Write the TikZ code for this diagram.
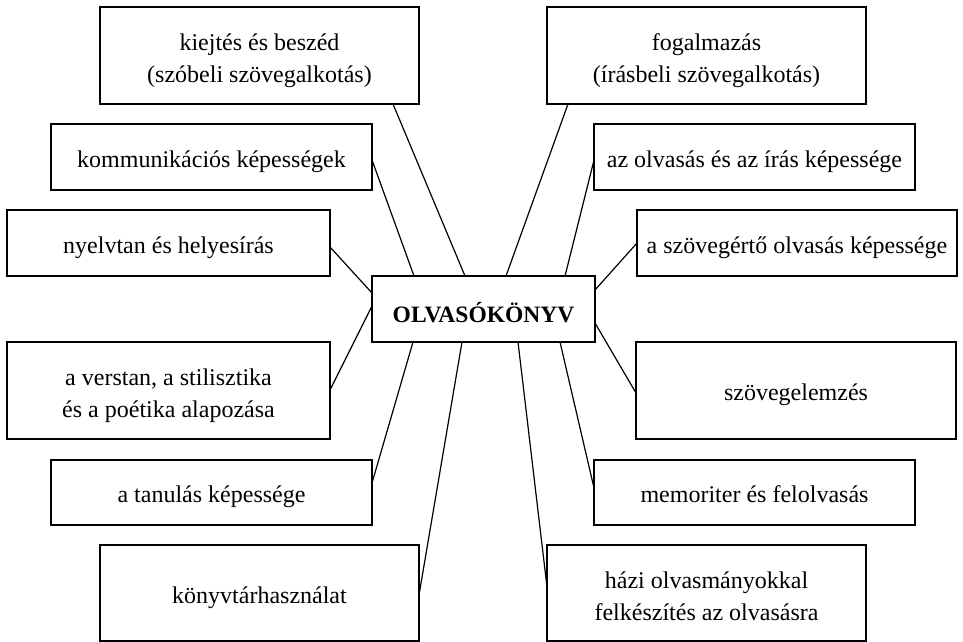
\documentclass[tikz,border=0pt]{standalone}
\usepackage{fontspec}
\setmainfont{Liberation Serif}
\usetikzlibrary{calc}
\tikzset{
  box/.style={draw, line width=1.4pt, inner sep=0pt, outer sep=0pt, align=center,
    font=\fontsize{24}{32}\selectfont, text height=20pt, text depth=0pt},
  twoline/.style={text height=54pt},
  hub/.style={box, font=\fontsize{23.5}{28}\selectfont\bfseries, text height=26pt},
  link/.style={line width=1.2pt}
}
% place a box by its corner coordinates (x1,y1) (x2,y2)
\newcommand\boxat[6][box]{%
  \node[box, #1, minimum width={#5-#3}, minimum height={#6-#4}] (#2) at ({(#3+#5)/2},{(#4+#6)/2})}
\begin{document}
\begin{tikzpicture}[x=1pt,y=-1pt]
\useasboundingbox (0,0) rectangle (963,642);
\fill[white] (0,0) rectangle (963,642);

% centre
\boxat[hub]{C}{372}{276}{595}{342} {OLVASÓKÖNYV};

% left column
\boxat[twoline]{k1}{100}{7}{419}{104} {kiejtés és beszéd\\(szóbeli szövegalkotás)};
\boxat{k2}{51}{124}{372}{190} {kommunikációs képességek};
\boxat{k3}{7}{210}{330}{276} {nyelvtan és helyesírás};
\boxat[twoline]{k4}{7}{342}{330}{439} {a verstan, a stilisztika\\és a poétika alapozása};
\boxat{k5}{51}{460}{372}{525} {a tanulás képessége};
\boxat{k6}{100}{545}{419}{641} {könyvtárhasználat};

% right column
\boxat[twoline]{r1}{547}{7}{866}{104} {fogalmazás\\(írásbeli szövegalkotás)};
\boxat{r2}{594}{124}{915}{190} {az olvasás és az írás képessége};
\boxat{r3}{637}{210}{957}{276} {a szövegértő olvasás képessége};
\boxat{r4}{636}{342}{956}{439} {szövegelemzés};
\boxat{r5}{594}{460}{915}{525} {memoriter és felolvasás};
\boxat[twoline]{r6}{547}{545}{866}{641} {házi olvasmányokkal\\felkészítés az olvasásra};

% connectors, left
\draw[link] ($(k1.south west)+(293,0)$) -- ($(C.north west)+(93,0)$);
\draw[link] ($(k2.north east)+(0,36)$) -- ($(C.north west)+(42,0)$);
\draw[link] ($(k3.north east)+(0,37)$) -- ($(C.north west)+(0,17)$);
\draw[link] ($(k4.north east)+(0,48)$) -- ($(C.north west)+(0,30)$);
\draw[link] ($(k5.north east)+(0,23)$) -- ($(C.south west)+(41,0)$);
\draw[link] ($(k6.north east)+(0,50)$) -- ($(C.south west)+(90,0)$);

% connectors, right
\draw[link] ($(r1.south west)+(21,0)$) -- ($(C.north west)+(134,0)$);
\draw[link] ($(r2.north west)+(0,36)$) -- ($(C.north west)+(193,0)$);
\draw[link] ($(r3.north west)+(0,33)$) -- ($(C.north east)+(0,14)$);
\draw[link] ($(r4.north west)+(0,51)$) -- ($(C.north east)+(0,47)$);
\draw[link] ($(r5.north west)+(0,28)$) -- ($(C.south west)+(188,0)$);
\draw[link] ($(r6.north west)+(0,42)$) -- ($(C.south west)+(146,0)$);
\end{tikzpicture}
\end{document}
